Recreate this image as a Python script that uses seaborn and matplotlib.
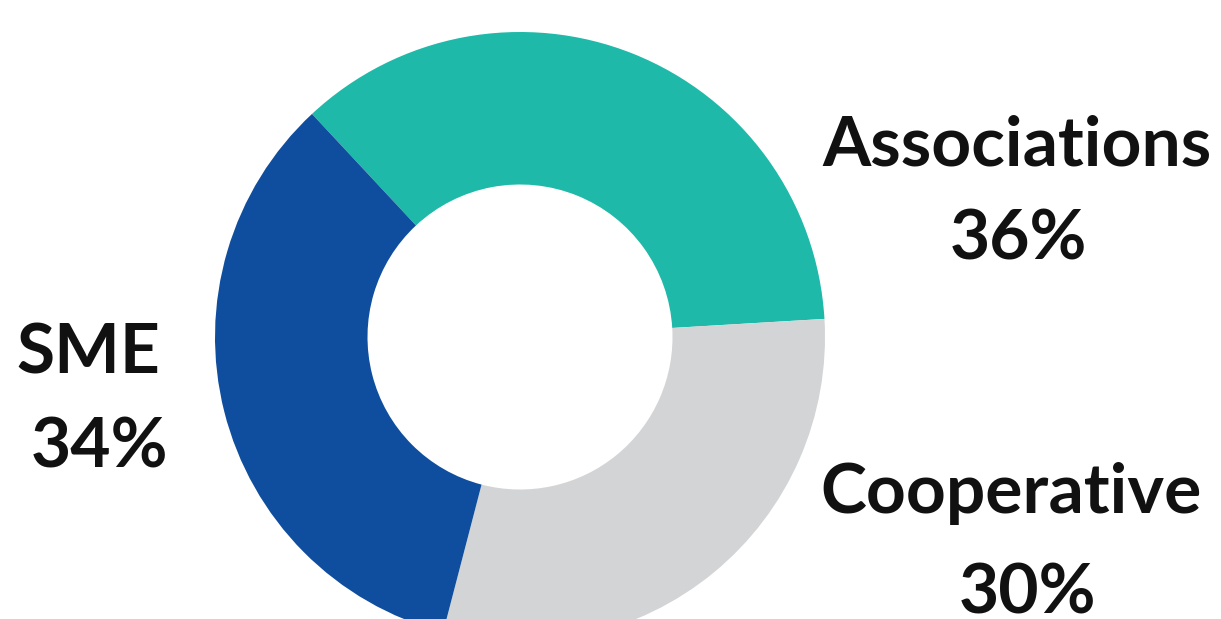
import matplotlib
matplotlib.use("Agg")
import matplotlib.pyplot as plt
import seaborn as sns

categories = ["Associations", "Cooperative", "SME"]
shares = [36, 30, 34]
colors = ["#1EB9A8", "#D3D4D6", "#0F4E9E"]

sns.set_theme(style="white")
plt.rcParams["font.family"] = ["Lato", "DejaVu Sans"]

W, H = 1221, 619
fig = plt.figure(figsize=(W / 100, H / 100), dpi=100)
fig.patch.set_facecolor("white")

cx, cy, R = 520, 337, 305
ax = fig.add_axes([(cx - R) / W, (H - cy - R) / H, 2 * R / W, 2 * R / H])
ax.pie(shares, colors=sns.color_palette(colors), startangle=133, counterclock=False,
       radius=1.0, wedgeprops=dict(width=0.5, linewidth=0))
ax.set_xlim(-1, 1)
ax.set_ylim(-1, 1)
ax.set_aspect("equal")
ax.axis("off")

fs = 50
labels = {
    "Associations": ((1017, 165), (1018, 260)),
    "Cooperative": ((1011, 513), (1027, 613)),
    "SME": ((88, 374), (99, 468)),
}
for cat, val in zip(categories, shares):
    (x1, y1), (x2, y2) = labels[cat]
    fig.text(x1 / W, 1 - y1 / H, cat, ha="center", va="baseline",
             fontsize=fs, fontweight="bold", color="#111111")
    fig.text(x2 / W, 1 - y2 / H, f"{val}%", ha="center", va="baseline",
             fontsize=fs, fontweight="bold", color="#111111")

fig.savefig("out.png", dpi=100, facecolor="white")
